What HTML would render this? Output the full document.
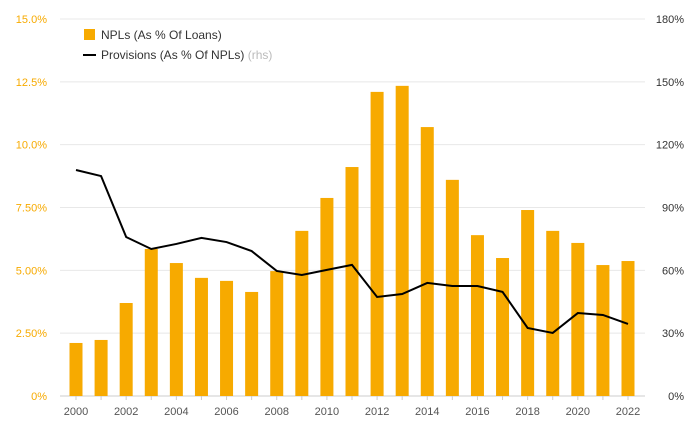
<!DOCTYPE html>
<html><head><meta charset="utf-8"><style>
body{margin:0;background:#fff;font-family:"Liberation Sans",sans-serif;}
svg text{font-family:"Liberation Sans",sans-serif;}
</style></head><body>
<svg id="chart" width="700" height="433" viewBox="0 0 700 433" xmlns="http://www.w3.org/2000/svg">
<g id="grid"></g>
<g id="bars"></g>
<g id="line"></g>
<g id="axes"></g>
<g>
<rect x="84" y="29" width="11" height="11" fill="#f7aa00"/>
<text x="101" y="39" font-size="12" fill="#333">NPLs (As % Of Loans)</text>
<line x1="83" y1="55" x2="96" y2="55" stroke="#000" stroke-width="2"/>
<text x="101" y="59" font-size="12" fill="#333">Provisions (As % Of NPLs) <tspan fill="#bbb">(rhs)</tspan></text>
</g>
</svg>
<script>
const years=[2000,2001,2002,2003,2004,2005,2006,2007,2008,2009,2010,2011,2012,2013,2014,2015,2016,2017,2018,2019,2020,2021,2022];
const npl=[2.11,2.23,3.7,5.85,5.29,4.7,4.58,4.14,4.97,6.57,7.88,9.11,12.1,12.34,10.7,8.6,6.4,5.49,7.4,6.57,6.09,5.21,5.37];
const provisions=[107.9,105,75.9,70.2,72.6,75.5,73.5,69.2,59.7,57.8,60.2,62.6,47.3,48.7,54,52.5,52.5,49.7,32.5,30.1,39.6,38.7,34.4];
const leftTicks=["0%","2.50%","5.00%","7.50%","10.0%","12.5%","15.0%"];
const rightTicks=["0%","30%","60%","90%","120%","150%","180%"];
const NS="http://www.w3.org/2000/svg";
const plotTop=19,plotBot=396,plotLeft=60,plotRight=645;
const yL=v=>plotBot-(plotBot-plotTop)*v/15;
const yR=v=>plotBot-(plotBot-plotTop)*v/180;
const xPos=i=>76+i*(628-76)/(years.length-1);
function mk(t,a,p){const e=document.createElementNS(NS,t);for(const k in a)e.setAttribute(k,a[k]);p.appendChild(e);return e;}
const g=document.getElementById('grid'),b=document.getElementById('bars'),l=document.getElementById('line'),ax=document.getElementById('axes');
leftTicks.forEach((t,i)=>{
  const y=yL(i*2.5);
  const gl=mk('line',{x1:plotLeft,x2:plotRight,y1:y,y2:y,stroke:i==0?'#ccc':'#e8e8e8','stroke-width':1},g);
  
  
  const tl=mk('text',{x:47,y:y+4,'font-size':11,fill:'#f7aa00','text-anchor':'end'},ax);tl.textContent=t;
  
  
  const tr=mk('text',{x:684,y:y+4,'font-size':11,fill:'#333','text-anchor':'end'},ax);tr.textContent=rightTicks[i];
  
  
});
years.forEach((yr,i)=>{
  const r=mk('rect',{x:xPos(i)-6.5,y:yL(npl[i]),width:13,height:plotBot-yL(npl[i]),fill:'#f7aa00'},b);
  
  
  const tk=mk('line',{x1:xPos(i),x2:xPos(i),y1:plotBot,y2:plotBot+4,stroke:'#ccc'},ax);
  
  
  if(i%2==0){const t=mk('text',{x:xPos(i),y:415,'font-size':11,fill:'#555','text-anchor':'middle'},ax);t.textContent=yr;
    
    }
});
const p=mk('polyline',{points:provisions.map((v,i)=>xPos(i)+','+yR(v)).join(' '),fill:'none',stroke:'#000','stroke-width':2},l);


</script>
</body></html>
